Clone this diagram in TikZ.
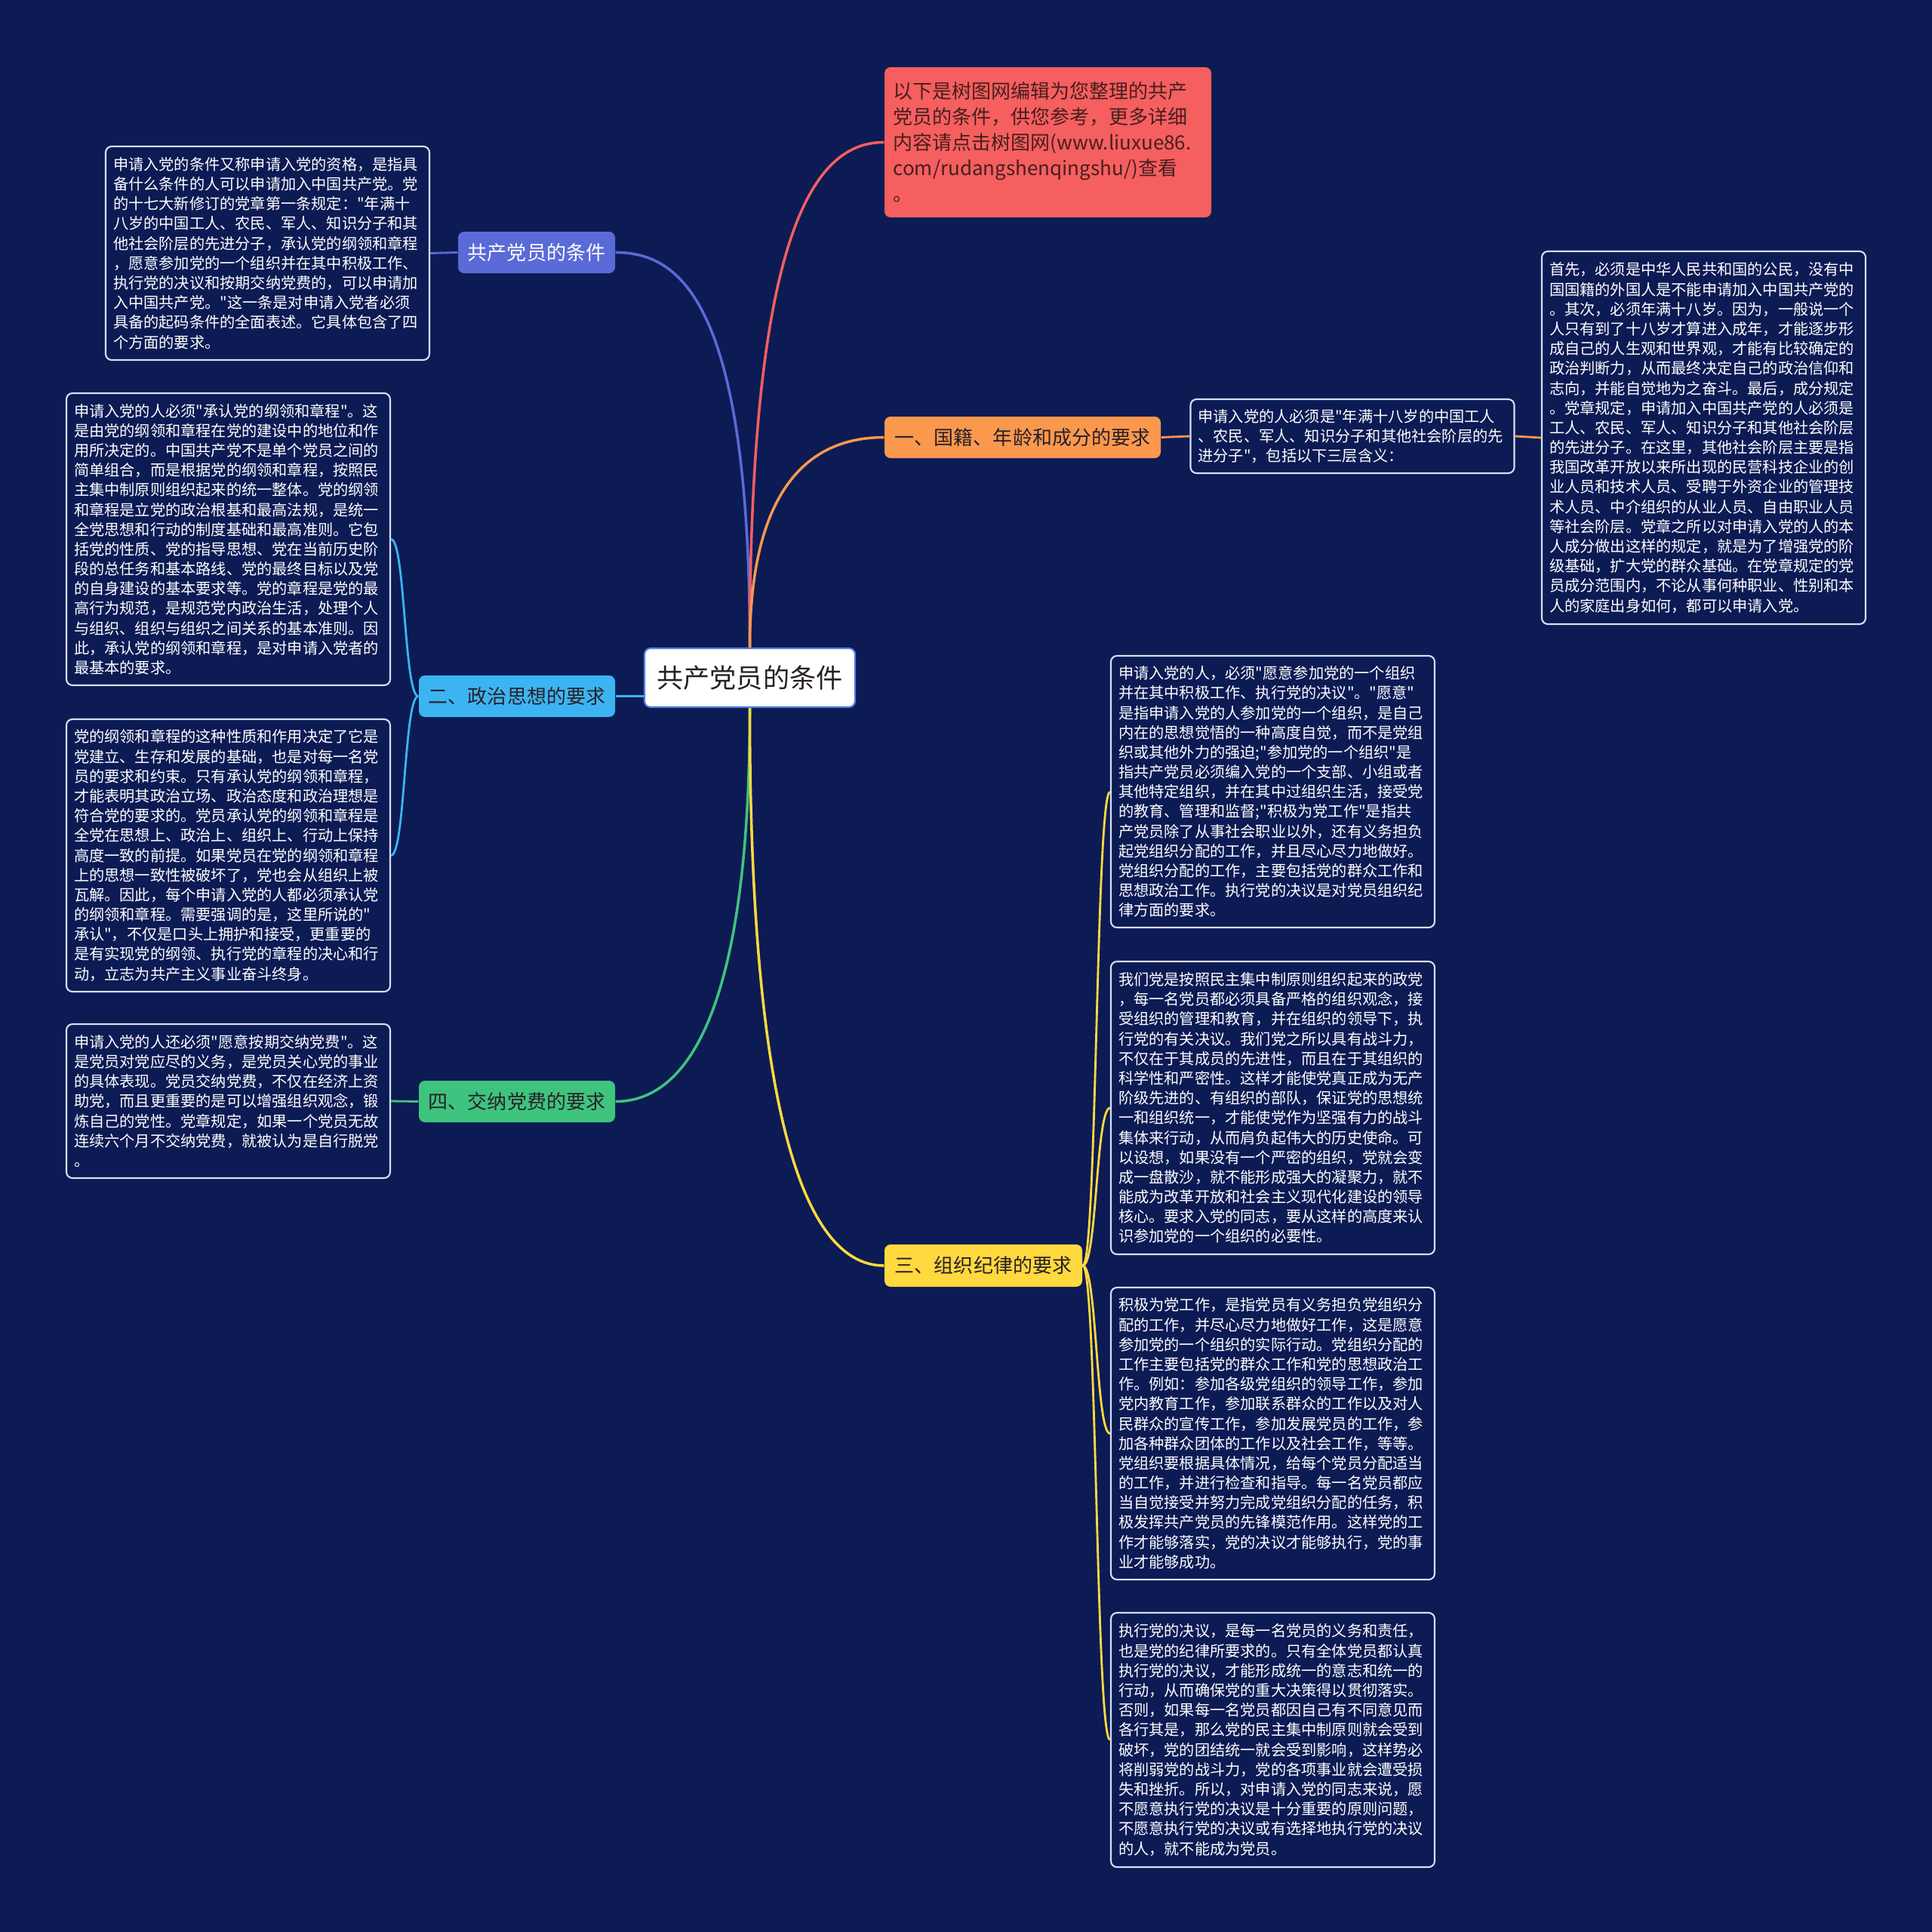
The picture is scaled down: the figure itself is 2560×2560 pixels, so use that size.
\documentclass[tikz,border=0pt]{standalone}
\usepackage{fontspec}
\setmainfont{Noto Sans CJK SC}[Ligatures=TeXOff]
\usepackage{xcolor}
\usepackage{tikz}

\definecolor{sfondo}{RGB}{12,27,84}
\definecolor{rosso}{RGB}{245,95,95}
\definecolor{blu}{RGB}{90,106,215}
\definecolor{arancio}{RGB}{250,152,78}
\definecolor{azzurro}{RGB}{60,180,242}
\definecolor{verde}{RGB}{62,196,126}
\definecolor{giallo}{RGB}{255,217,62}
\definecolor{testoscuro}{RGB}{40,32,40}
\definecolor{testonota}{RGB}{72,30,30}
\definecolor{bordofoglia}{RGB}{215,222,240}
\definecolor{bordoradice}{RGB}{80,125,225}

\tikzset{
  radice/.style={draw=bordoradice, line width=0.6pt, fill=white, rounded corners=0.8mm,
    minimum width=27.9mm, minimum height=7.8mm, inner sep=0pt, text=testoscuro,
    font=\fontsize{10pt}{12pt}\selectfont},
  ramo/.style={rounded corners=0.8mm, minimum height=5.5mm, inner sep=0pt, text=testoscuro,
    font=\fontsize{7.4pt}{9pt}\selectfont},
  foglia/.style={draw=bordofoglia, line width=0.6pt, fill=sfondo, rounded corners=0.8mm,
    text width=40.9mm, inner sep=1mm, align=left, text=white,
    font=\fontsize{5.75pt}{7.45pt}\selectfont},
  arco/.style={line width=1pt},
  arcofoglia/.style={line width=0.8pt}
}

\begin{document}
\begin{tikzpicture}[x=0.1mm,y=-0.1mm]
  % Sfondo
  \fill[sfondo] (0,0) rectangle (2560,2560);
  \useasboundingbox (0,0) rectangle (2560,2560);

  % Nodo centrale
  \node[radice] (root) at (993.5,898) {共产党员的条件};

  % Nota in alto
  \node[ramo, fill=rosso, text=testonota, minimum width=43.3mm, minimum height=19.9mm,
    text width=41mm, inner xsep=1.15mm, align=left,
    font=\fontsize{7.4pt}{9.67pt}\selectfont] (nota) at (1388.5,188.5)
    {以下是树图网编辑为您整理的共产\\
     党员的条件，供您参考，更多详细\\
     内容请点击树图网\mbox{(www.liuxue86.}\\
     \mbox{com/rudangshenqingshu/)}查看\\
     。};

  % Rami
  \node[ramo, fill=blu, text=white, minimum width=20.8mm] (b1) at (711,334.5) {共产党员的条件};
  \node[ramo, fill=arancio, minimum width=36.6mm] (b0) at (1355,579.5) {一、国籍、年龄和成分的要求};
  \node[ramo, fill=azzurro, minimum width=26mm] (b2) at (685,922.5) {二、政治思想的要求};
  \node[ramo, fill=giallo, minimum width=26.2mm, minimum height=5.6mm] (b3) at (1303,1677) {三、组织纪律的要求};
  \node[ramo, fill=verde, minimum width=26mm] (b4) at (685,1459.5) {四、交纳党费的要求};

  % Foglie a sinistra
  \node[foglia, minimum height=28.3mm] (t1) at (354.5,335.5)
    {申请入党的条件又称申请入党的资格，是指具\\
     备什么条件的人可以申请加入中国共产党。党\\
     的十七大新修订的党章第一条规定："年满十\\
     八岁的中国工人、农民、军人、知识分子和其\\
     他社会阶层的先进分子，承认党的纲领和章程\\
     ，愿意参加党的一个组织并在其中积极工作、\\
     执行党的决议和按期交纳党费的，可以申请加\\
     入中国共产党。"这一条是对申请入党者必须\\
     具备的起码条件的全面表述。它具体包含了四\\
     个方面的要求。};

  \node[foglia, minimum height=38.7mm] (l1) at (302.5,714.5)
    {申请入党的人必须"承认党的纲领和章程"。这\\
     是由党的纲领和章程在党的建设中的地位和作\\
     用所决定的。中国共产党不是单个党员之间的\\
     简单组合，而是根据党的纲领和章程，按照民\\
     主集中制原则组织起来的统一整体。党的纲领\\
     和章程是立党的政治根基和最高法规，是统一\\
     全党思想和行动的制度基础和最高准则。它包\\
     括党的性质、党的指导思想、党在当前历史阶\\
     段的总任务和基本路线、党的最终目标以及党\\
     的自身建设的基本要求等。党的章程是党的最\\
     高行为规范，是规范党内政治生活，处理个人\\
     与组织、组织与组织之间关系的基本准则。因\\
     此，承认党的纲领和章程，是对申请入党者的\\
     最基本的要求。};

  \node[foglia, minimum height=36.1mm] (l2) at (302.5,1133.5)
    {党的纲领和章程的这种性质和作用决定了它是\\
     党建立、生存和发展的基础，也是对每一名党\\
     员的要求和约束。只有承认党的纲领和章程，\\
     才能表明其政治立场、政治态度和政治理想是\\
     符合党的要求的。党员承认党的纲领和章程是\\
     全党在思想上、政治上、组织上、行动上保持\\
     高度一致的前提。如果党员在党的纲领和章程\\
     上的思想一致性被破坏了，党也会从组织上被\\
     瓦解。因此，每个申请入党的人都必须承认党\\
     的纲领和章程。需要强调的是，这里所说的"\\
     承认"，不仅是口头上拥护和接受，更重要的\\
     是有实现党的纲领、执行党的章程的决心和行\\
     动，立志为共产主义事业奋斗终身。};

  \node[foglia, minimum height=20.4mm] (l3) at (302.5,1459)
    {申请入党的人还必须"愿意按期交纳党费"。这\\
     是党员对党应尽的义务，是党员关心党的事业\\
     的具体表现。党员交纳党费，不仅在经济上资\\
     助党，而且更重要的是可以增强组织观念，锻\\
     炼自己的党性。党章规定，如果一个党员无故\\
     连续六个月不交纳党费，就被认为是自行脱党\\
     。};

  % Foglie a destra
  \node[foglia, minimum height=9.8mm] (m1) at (1792,578)
    {申请入党的人必须是"年满十八岁的中国工人\\
     、农民、军人、知识分子和其他社会阶层的先\\
     进分子"，包括以下三层含义：};

  \node[foglia, minimum height=49.4mm] (rf) at (2257.5,580)
    {首先，必须是中华人民共和国的公民，没有中\\
     国国籍的外国人是不能申请加入中国共产党的\\
     。其次，必须年满十八岁。因为，一般说一个\\
     人只有到了十八岁才算进入成年，才能逐步形\\
     成自己的人生观和世界观，才能有比较确定的\\
     政治判断力，从而最终决定自己的政治信仰和\\
     志向，并能自觉地为之奋斗。最后，成分规定\\
     。党章规定，申请加入中国共产党的人必须是\\
     工人、农民、军人、知识分子和其他社会阶层\\
     的先进分子。在这里，其他社会阶层主要是指\\
     我国改革开放以来所出现的民营科技企业的创\\
     业人员和技术人员、受聘于外资企业的管理技\\
     术人员、中介组织的从业人员、自由职业人员\\
     等社会阶层。党章之所以对申请入党的人的本\\
     人成分做出这样的规定，就是为了增强党的阶\\
     级基础，扩大党的群众基础。在党章规定的党\\
     员成分范围内，不论从事何种职业、性别和本\\
     人的家庭出身如何，都可以申请入党。};

  \node[foglia, minimum height=36mm] (r1) at (1686.5,1049)
    {申请入党的人，必须"愿意参加党的一个组织\\
     并在其中积极工作、执行党的决议"。"愿意"\\
     是指申请入党的人参加党的一个组织，是自己\\
     内在的思想觉悟的一种高度自觉，而不是党组\\
     织或其他外力的强迫;"参加党的一个组织"是\\
     指共产党员必须编入党的一个支部、小组或者\\
     其他特定组织，并在其中过组织生活，接受党\\
     的教育、管理和监督;"积极为党工作"是指共\\
     产党员除了从事社会职业以外，还有义务担负\\
     起党组织分配的工作，并且尽心尽力地做好。\\
     党组织分配的工作，主要包括党的群众工作和\\
     思想政治工作。执行党的决议是对党员组织纪\\
     律方面的要求。};

  \node[foglia, minimum height=38.8mm] (r2) at (1686.5,1468)
    {我们党是按照民主集中制原则组织起来的政党\\
     ，每一名党员都必须具备严格的组织观念，接\\
     受组织的管理和教育，并在组织的领导下，执\\
     行党的有关决议。我们党之所以具有战斗力，\\
     不仅在于其成员的先进性，而且在于其组织的\\
     科学性和严密性。这样才能使党真正成为无产\\
     阶级先进的、有组织的部队，保证党的思想统\\
     一和组织统一，才能使党作为坚强有力的战斗\\
     集体来行动，从而肩负起伟大的历史使命。可\\
     以设想，如果没有一个严密的组织，党就会变\\
     成一盘散沙，就不能形成强大的凝聚力，就不\\
     能成为改革开放和社会主义现代化建设的领导\\
     核心。要求入党的同志，要从这样的高度来认\\
     识参加党的一个组织的必要性。};

  \node[foglia, minimum height=38.7mm] (r3) at (1686.5,1899.5)
    {积极为党工作，是指党员有义务担负党组织分\\
     配的工作，并尽心尽力地做好工作，这是愿意\\
     参加党的一个组织的实际行动。党组织分配的\\
     工作主要包括党的群众工作和党的思想政治工\\
     作。例如：参加各级党组织的领导工作，参加\\
     党内教育工作，参加联系群众的工作以及对人\\
     民群众的宣传工作，参加发展党员的工作，参\\
     加各种群众团体的工作以及社会工作，等等。\\
     党组织要根据具体情况，给每个党员分配适当\\
     的工作，并进行检查和指导。每一名党员都应\\
     当自觉接受并努力完成党组织分配的任务，积\\
     极发挥共产党员的先锋模范作用。这样党的工\\
     作才能够落实，党的决议才能够执行，党的事\\
     业才能够成功。};

  \node[foglia, minimum height=33.7mm] (r4) at (1686.5,2305.5)
    {执行党的决议，是每一名党员的义务和责任，\\
     也是党的纪律所要求的。只有全体党员都认真\\
     执行党的决议，才能形成统一的意志和统一的\\
     行动，从而确保党的重大决策得以贯彻落实。\\
     否则，如果每一名党员都因自己有不同意见而\\
     各行其是，那么党的民主集中制原则就会受到\\
     破坏，党的团结统一就会受到影响，这样势必\\
     将削弱党的战斗力，党的各项事业就会遭受损\\
     失和挫折。所以，对申请入党的同志来说，愿\\
     不愿意执行党的决议是十分重要的原则问题，\\
     不愿意执行党的决议或有选择地执行党的决议\\
     的人，就不能成为党员。};

  % Collegamenti dal centro
  \draw[arco, blu] (root.north) .. controls +(0,-459) and +(85,0) .. (b1.east);
  \draw[arco, rosso] (root.north) .. controls +(0,-559) and +(-90,0) .. (nota.west);
  \draw[arco, arancio] (root.north) .. controls +(0,-223) and +(-90,0) .. (b0.west);
  \draw[arco, azzurro] (b2.east) -- (b2.east -| root.west);
  \draw[arco, verde] (root.south) .. controls +(0,418) and +(88,0) .. (b4.east);
  \draw[arco, giallo] (root.south) .. controls +(0,592) and +(-90,0) .. (b3.west);

  % Collegamenti alle foglie
  \draw[arcofoglia, blu] (b1.west) -- (t1.east);
  \draw[arcofoglia, azzurro] (b2.west) .. controls +(-19,0) and +(19,0) .. (l1.east);
  \draw[arcofoglia, azzurro] (b2.west) .. controls +(-19,0) and +(19,0) .. (l2.east);
  \draw[arcofoglia, verde] (b4.west) -- (l3.east);
  \draw[arcofoglia, arancio] (b0.east) -- (m1.west);
  \draw[arcofoglia, arancio] (m1.east) -- (rf.west);
  \draw[arcofoglia, giallo] (b3.east) .. controls +(19,0) and +(-19,0) .. (r1.west);
  \draw[arcofoglia, giallo] (b3.east) .. controls +(19,0) and +(-19,0) .. (r2.west);
  \draw[arcofoglia, giallo] (b3.east) .. controls +(19,0) and +(-19,0) .. (r3.west);
  \draw[arcofoglia, giallo] (b3.east) .. controls +(19,0) and +(-19,0) .. (r4.west);
\end{tikzpicture}
\end{document}
